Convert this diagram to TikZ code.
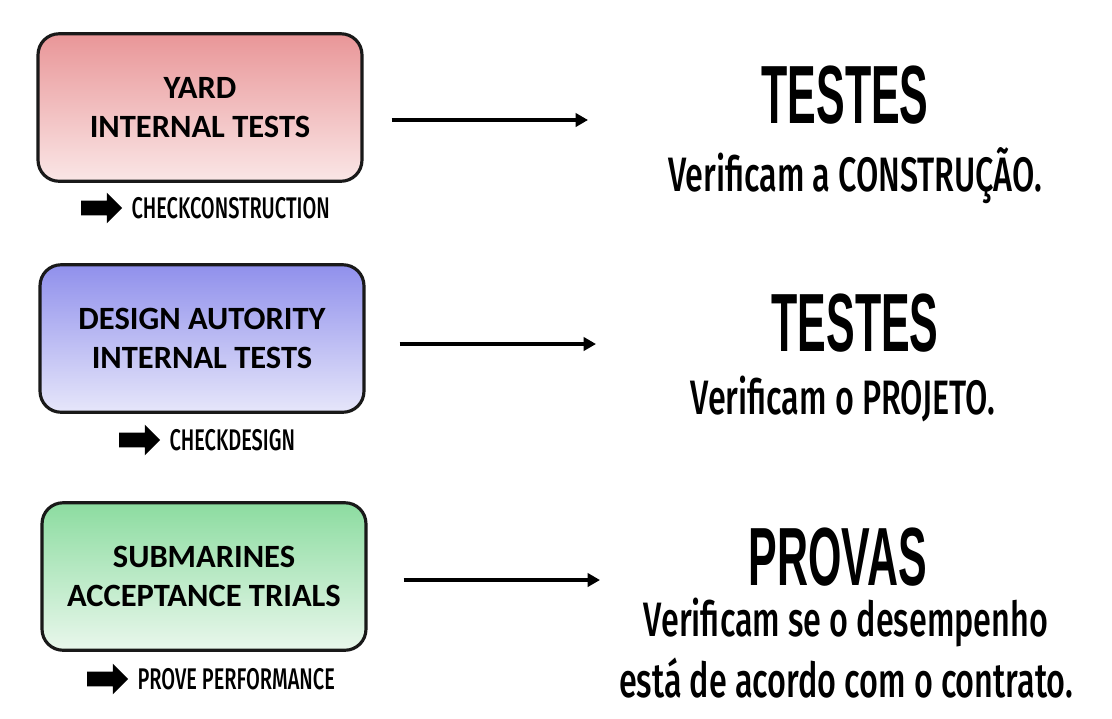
\documentclass[tikz,border=0pt]{standalone}
\usepackage{fontspec}
\usetikzlibrary{arrows.meta, positioning, shapes.arrows}
\newfontfamily\boxfont{Carlito}
\newfontfamily\headfont[FakeStretch=0.52]{Liberation Sans}
\newfontfamily\bodyfont[FakeStretch=0.67]{Fira Sans Medium}
\definecolor{yardtop}{HTML}{E99698}
\definecolor{yardbot}{HTML}{FAE6E6}
\definecolor{designtop}{HTML}{9090EC}
\definecolor{designbot}{HTML}{E6E6FA}
\definecolor{subtop}{HTML}{8CDCA0}
\definecolor{subbot}{HTML}{E9F7EC}
\tikzset{
    %Define standard arrow tip
    >={Triangle[length=7pt,width=7.5pt]},
}

\begin{document}
\begin{tikzpicture}[x=0.02cm, y=-0.02cm,
    stage/.style = {draw=black!90, line width=1.8pt, rounded corners=0.42cm,
                    shading=axis, shading angle=0,
                    minimum width=6.48cm, minimum height=2.95cm,
                    align=center, font=\boxfont\bfseries\fontsize{18.5}{22}\selectfont},
    fatarrow/.style = {single arrow, fill=black, inner xsep=0pt, inner ysep=0.14cm,
                       minimum height=0.82cm,
                       single arrow head extend=0.16cm},
    tag/.style = {right=0.17cm of #1, inner sep=0pt,
                  font=\bodyfont\fontsize{17}{20}\selectfont},
    head/.style = {font=\headfont\bfseries\fontsize{47}{50}\selectfont},
    body/.style = {align=center, font=\bodyfont\fontsize{27.5}{35}\selectfont},
    link/.style = {->, line width=2pt},
  ]
  \useasboundingbox (0,0) rectangle (1112,718);

  \node[stage, top color=yardtop, bottom color=yardbot] (yard) at (200,107.5)
    {YARD\\INTERNAL TESTS};
  \node[fatarrow] (yard-arrow) at (98,208) {};
  \node[tag=yard-arrow] (yard-tag) {CHECKCONSTRUCTION};

  \node[stage, top color=designtop, bottom color=designbot] (design) at (202,338.5)
    {DESIGN AUTORITY\\INTERNAL TESTS};
  \node[fatarrow] (design-arrow) at (136,440) {};
  \node[tag=design-arrow] (design-tag) {CHECKDESIGN};

  \node[stage, top color=subtop, bottom color=subbot] (sub) at (204,576.5)
    {SUBMARINES\\ACCEPTANCE TRIALS};
  \node[fatarrow] (sub-arrow) at (104,679) {};
  \node[tag=sub-arrow] (sub-tag) {PROVE PERFORMANCE};

  \node[head] (tests1) at (845,95) {TESTES};
  \node[body] (tests1-text) at (855,176) {Verificam a CONSTRUÇÃO.};
  \node[head] (tests2) at (855,323) {TESTES};
  \node[body] (tests2-text) at (843,399) {Verificam o PROJETO.};
  \node[head] (trials) at (838,557) {PROVAS};
  \node[body] (trials-text) at (846,648)
    {Verificam se o desempenho\\está de acordo com o contrato.};

  \coordinate (yard-end) at (588,120);
  \coordinate (design-end) at (596,344);
  \coordinate (sub-end) at (600,580);
  \draw[link, shorten <=0.56cm] (yard.east |- yard-end) -- (yard-end);
  \draw[link, shorten <=0.68cm] (design.east |- design-end) -- (design-end);
  \draw[link, shorten <=0.72cm] (sub.east |- sub-end) -- (sub-end);
\end{tikzpicture}
\end{document}
